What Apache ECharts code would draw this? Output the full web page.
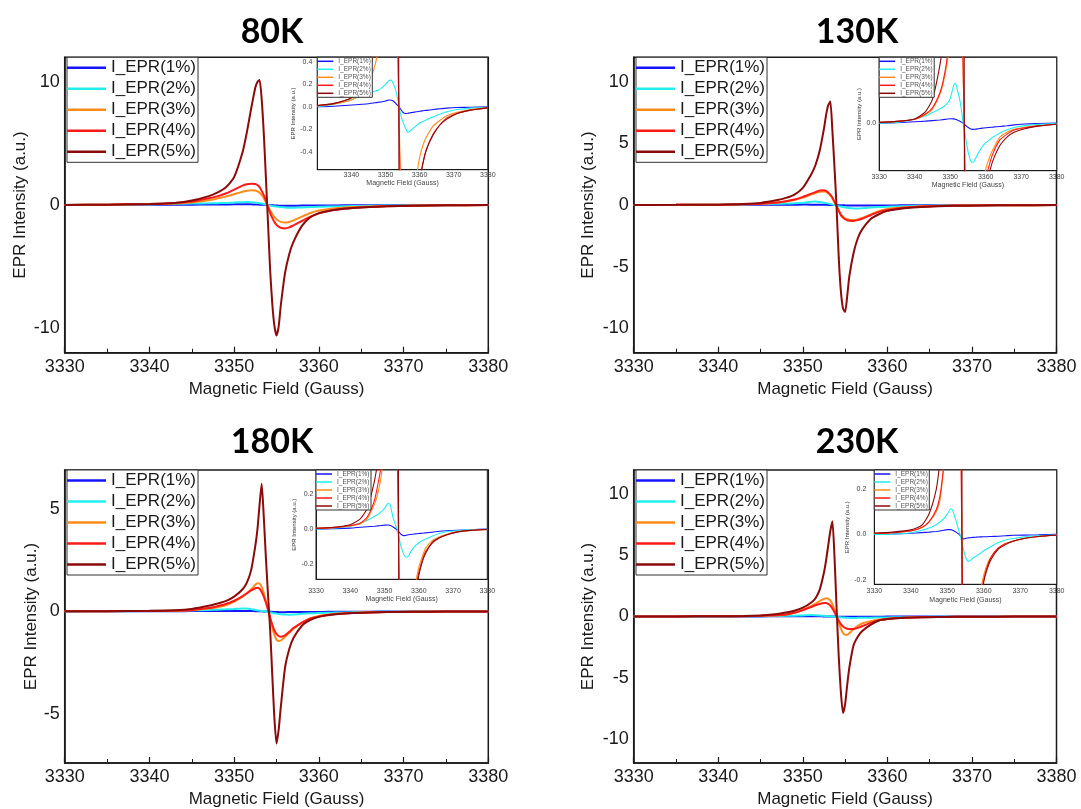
<!DOCTYPE html>
<html><head><meta charset="utf-8">
<script src="https://cdn.jsdelivr.net/npm/echarts@6/dist/echarts.min.js"></script>
<style>html,body{margin:0;padding:0;background:#fff}#c{width:1081px;height:809px}</style>
</head><body><div id="c"></div>
<script>
// ---------- DATA ----------
const field = [3330, 3335, 3340, 3343, 3345, 3347, 3348, 3349, 3350,
  3351, 3351.5, 3352, 3352.5, 3352.75, 3353, 3353.25, 3353.5, 3353.75,
  3354, 3354.25, 3354.5, 3354.75, 3355, 3355.25, 3355.5, 3356, 3356.5,
  3357, 3358, 3359, 3360, 3361, 3362, 3364, 3366, 3368, 3371, 3375, 3380];
const seriesNames = ['I_EPR(1%)', 'I_EPR(2%)', 'I_EPR(3%)', 'I_EPR(4%)', 'I_EPR(5%)'];
const panelTitles = ['80K', '130K', '180K', '230K'];
const xTitle = 'Magnetic Field (Gauss)';
const yTitle = 'EPR Intensity (a.u.)';

// 80K
const blue80 = [0, 0.005, 0.015, 0.022, 0.027, 0.035, 0.04, 0.045, 0.052,
  0.06, 0.06, 0.055, 0.045, 0.038, 0.03, 0.022, 0.015, 0.008,
  0, -0.012, -0.025, -0.035, -0.045, -0.052, -0.057, -0.06, -0.058,
  -0.055, -0.05, -0.045, -0.04, -0.036, -0.032, -0.025, -0.018, -0.012, -0.007, -0.004, 0];
const cyan80 = [0, 0.022, 0.062, 0.1, 0.122, 0.14, 0.15, 0.17, 0.2,
  0.232, 0.237, 0.225, 0.19, 0.17, 0.145, 0.115, 0.08, 0.04,
  0, -0.04, -0.075, -0.1, -0.125, -0.145, -0.165, -0.2, -0.226,
  -0.22, -0.195, -0.17, -0.145, -0.13, -0.115, -0.09, -0.065, -0.045, -0.025, -0.012, -0.005];
const orange80 = [0.01, 0.025, 0.06, 0.12, 0.2, 0.38, 0.52, 0.68, 0.88,
  1.08, 1.15, 1.19, 1.17, 1.1, 1.0, 0.82, 0.55, 0.22,
  -0.12, -0.45, -0.75, -0.98, -1.15, -1.28, -1.37, -1.43, -1.38,
  -1.25, -0.95, -0.65, -0.45, -0.34, -0.27, -0.17, -0.12, -0.08, -0.05, -0.025, -0.01];
const red80 = [0.01, 0.03, 0.08, 0.17, 0.28, 0.55, 0.7, 0.93, 1.25,
  1.58, 1.68, 1.73, 1.7, 1.62, 1.45, 1.15, 0.8, 0.35,
  -0.15, -0.65, -1.05, -1.38, -1.62, -1.76, -1.85, -1.9, -1.82,
  -1.65, -1.3, -0.95, -0.68, -0.5, -0.38, -0.24, -0.16, -0.1, -0.06, -0.03, -0.01];
const brown80 = [0.01, 0.03, 0.08, 0.17, 0.36, 0.72, 1.0, 1.42, 2.27,
  4.3, 5.9, 7.8, 9.55, 10.0, 10.16, 8.6, 5.8, 2.2,
  -1.5, -5.3, -8.0, -9.8, -10.6, -9.9, -8.2, -5.55, -4.0,
  -3.0, -1.7, -1.0, -0.66, -0.5, -0.38, -0.25, -0.16, -0.11, -0.06, -0.03, -0.01];

// 130K
const blue130 = [0, 0.003, 0.01, 0.014, 0.018, 0.022, 0.025, 0.028, 0.031,
  0.03, 0.027, 0.022, 0.016, 0.013, 0.01, 0.006, 0.002, -0.003,
  -0.008, -0.014, -0.02, -0.025, -0.03, -0.034, -0.038, -0.043, -0.045,
  -0.044, -0.04, -0.036, -0.033, -0.031, -0.029, -0.024, -0.019, -0.013, -0.006, -0.003, 0];
const cyan130 = [0, 0.005, 0.027, 0.05, 0.075, 0.1, 0.115, 0.135, 0.175,
  0.27, 0.285, 0.24, 0.19, 0.16, 0.12, 0.08, 0.03, -0.01,
  -0.05, -0.09, -0.13, -0.165, -0.2, -0.225, -0.25, -0.28, -0.28,
  -0.26, -0.21, -0.17, -0.14, -0.12, -0.1, -0.07, -0.048, -0.032, -0.018, -0.009, -0.003];
const orange130 = [0.005, 0.012, 0.028, 0.06, 0.1, 0.2, 0.28, 0.41, 0.6,
  0.86, 0.98, 1.08, 1.1, 1.06, 0.95, 0.78, 0.55, 0.22,
  -0.1, -0.45, -0.75, -0.95, -1.08, -1.16, -1.2, -1.22, -1.17,
  -1.06, -0.78, -0.5, -0.33, -0.25, -0.19, -0.1, -0.065, -0.045, -0.03, -0.018, -0.008];
const red130 = [0.005, 0.012, 0.028, 0.065, 0.11, 0.21, 0.3, 0.44, 0.66,
  0.92, 1.05, 1.17, 1.2, 1.15, 1.02, 0.84, 0.6, 0.25,
  -0.1, -0.48, -0.82, -1.02, -1.16, -1.24, -1.28, -1.29, -1.23,
  -1.12, -0.83, -0.56, -0.4, -0.3, -0.22, -0.12, -0.08, -0.05, -0.033, -0.02, -0.008];
const brown130 = [0.005, 0.012, 0.03, 0.08, 0.17, 0.4, 0.58, 0.85, 1.4,
  2.5, 3.25, 4.42, 6.2, 7.3, 8.1, 8.4, 6.0, 3.0,
  -0.3, -4.3, -7.0, -8.4, -8.7, -7.4, -5.8, -3.9, -2.7,
  -2.0, -1.15, -0.75, -0.48, -0.36, -0.27, -0.16, -0.1, -0.065, -0.04, -0.02, -0.008];

// 180K
const blue180 = [0, 0.002, 0.005, 0.01, 0.013, 0.016, 0.018, 0.02, 0.022,
  0.023, 0.021, 0.017, 0.012, 0.009, 0.005, 0.001, -0.003, -0.008,
  -0.013, -0.018, -0.024, -0.029, -0.033, -0.036, -0.038, -0.037, -0.035,
  -0.033, -0.03, -0.028, -0.026, -0.024, -0.022, -0.018, -0.013, -0.01, -0.007, -0.004, 0];
const cyan180 = [0, 0.005, 0.016, 0.035, 0.05, 0.072, 0.083, 0.098, 0.118,
  0.146, 0.145, 0.11, 0.066, 0.05, 0.035, 0.022, 0.008, -0.005,
  -0.025, -0.05, -0.075, -0.095, -0.11, -0.125, -0.14, -0.158, -0.162,
  -0.155, -0.12, -0.095, -0.08, -0.068, -0.058, -0.04, -0.026, -0.016, -0.01, -0.005, -0.002];
const orange180 = [0.004, 0.008, 0.018, 0.03, 0.06, 0.14, 0.2, 0.3, 0.48,
  0.72, 0.88, 1.07, 1.3, 1.37, 1.36, 1.2, 0.9, 0.5,
  0.1, -0.35, -0.8, -1.15, -1.38, -1.45, -1.42, -1.25, -1.05,
  -0.85, -0.55, -0.33, -0.22, -0.16, -0.11, -0.065, -0.044, -0.03, -0.016, -0.008, -0.003];
const red180 = [0.004, 0.008, 0.02, 0.035, 0.07, 0.16, 0.25, 0.36, 0.52,
  0.75, 0.88, 1.02, 1.13, 1.15, 1.1, 0.95, 0.72, 0.42,
  0.08, -0.3, -0.65, -0.92, -1.1, -1.2, -1.24, -1.17, -1.0,
  -0.82, -0.55, -0.35, -0.25, -0.18, -0.13, -0.08, -0.052, -0.035, -0.018, -0.009, -0.003];
const brown180 = [0.004, 0.01, 0.025, 0.06, 0.12, 0.27, 0.38, 0.5, 0.72,
  1.08, 1.4, 2.0, 3.2, 4.0, 5.2, 6.23, 4.6, 2.6,
  0.8, -0.9, -3.1, -5.2, -6.45, -5.8, -4.7, -2.77, -1.85,
  -1.3, -0.7, -0.42, -0.27, -0.19, -0.14, -0.075, -0.05, -0.035, -0.018, -0.008, -0.003];

// 230K
const blue230 = [0, 0.002, 0.005, 0.008, 0.01, 0.013, 0.015, 0.018, 0.021,
  0.021, 0.018, 0.014, 0.009, 0.006, 0.003, 0, -0.004, -0.009,
  -0.014, -0.018, -0.02, -0.019, -0.018, -0.017, -0.016, -0.015, -0.014,
  -0.013, -0.012, -0.011, -0.01, -0.01, -0.009, -0.008, -0.006, -0.004, -0.003, -0.002, 0];
const cyan230 = [0, 0.001, 0.007, 0.018, 0.028, 0.043, 0.055, 0.068, 0.09,
  0.113, 0.105, 0.08, 0.055, 0.04, 0.025, 0.012, 0, -0.018,
  -0.035, -0.052, -0.07, -0.085, -0.098, -0.108, -0.116, -0.118, -0.112,
  -0.105, -0.095, -0.084, -0.072, -0.062, -0.053, -0.036, -0.025, -0.018, -0.011, -0.006, -0.002];
const orange230 = [0.005, 0.008, 0.015, 0.03, 0.055, 0.1, 0.15, 0.3, 0.55,
  0.85, 1.05, 1.27, 1.45, 1.5, 1.47, 1.3, 1.0, 0.55,
  0.05, -0.5, -1.0, -1.35, -1.5, -1.5, -1.38, -1.02, -0.76,
  -0.57, -0.38, -0.26, -0.18, -0.13, -0.1, -0.06, -0.04, -0.03, -0.018, -0.009, -0.004];
const red230 = [0.005, 0.008, 0.015, 0.03, 0.055, 0.11, 0.17, 0.3, 0.52,
  0.78, 0.92, 1.03, 1.1, 1.1, 1.04, 0.9, 0.66, 0.35,
  -0.02, -0.35, -0.62, -0.82, -0.94, -1.0, -1.03, -1.02, -0.93,
  -0.8, -0.52, -0.31, -0.2, -0.14, -0.1, -0.06, -0.04, -0.03, -0.018, -0.009, -0.004];
const brown230 = [0.005, 0.01, 0.02, 0.04, 0.09, 0.2, 0.32, 0.47, 0.72,
  1.15, 1.5, 2.2, 3.6, 4.6, 5.8, 7.0, 7.8, 4.8,
  0.6, -3.3, -6.2, -7.9, -7.2, -5.6, -4.2, -2.35, -1.65,
  -1.2, -0.68, -0.33, -0.21, -0.15, -0.11, -0.065, -0.045, -0.03, -0.018, -0.009, -0.004];

// tick labels
const xTicks = [3330, 3340, 3350, 3360, 3370, 3380];
const mainYTicks80 = [-10, 0, 10];
const mainYTicks130 = [-10, -5, 0, 5, 10];
const mainYTicks180 = [-5, 0, 5];
const mainYTicks230 = [-10, -5, 0, 5, 10];
const insetYTicks80 = [-0.4, -0.2, 0, 0.2, 0.4];
const insetYTicks130 = [0];
const insetYTicks180 = [-0.2, 0, 0.2];
const insetYTicks230 = [-0.2, 0, 0.2];

// ---------- STYLE / LAYOUT ----------
const colors = ['#1414ff', '#22eeee', '#ff8c1a', '#ff1a1a', '#8b0a0a'];
const FONT = '"Liberation Sans", Arial, sans-serif';
const INK = '#1a1a1a';
const plain = (v) => String(v);

const panels = [
  { title: panelTitles[0], tx: 272, ty: 32, data: [blue80, cyan80, orange80, red80, brown80],
    main: { left: 64.7, top: 57.3, w: 423.6, h: 295.4, ymin: -12, ymax: 12, yTicks: mainYTicks80, yNameGap: 36 },
    inset: { left: 317.3, top: 57.3, w: 170.5, h: 112.4, ymin: -0.56, ymax: 0.44, yTicks: insetYTicks80,
             showMinX: false, xLabMargin: 1.5, xNameGap: 10, yNameGap: 17, yLabMargin: 5 } },
  { title: panelTitles[1], tx: 857, ty: 32, data: [blue130, cyan130, orange130, red130, brown130],
    main: { left: 633.7, top: 57.3, w: 422.8, h: 295.4, ymin: -12, ymax: 12, yTicks: mainYTicks130, yNameGap: 37 },
    inset: { left: 879.2, top: 57.3, w: 177.5, h: 113.4, ymin: -0.34, ymax: 0.47, yTicks: insetYTicks130,
             showMinX: true, xLabMargin: 2.5, xNameGap: 11, yNameGap: 13, yLabMargin: 3 } },
  { title: panelTitles[2], tx: 272, ty: 442, data: [blue180, cyan180, orange180, red180, brown180],
    main: { left: 64.7, top: 470, w: 423.6, h: 295, ymin: -7.4, ymax: 6.9, yTicks: mainYTicks180, yNameGap: 25 },
    inset: { left: 316, top: 470, w: 171.3, h: 109.3, ymin: -0.289, ymax: 0.339, yTicks: insetYTicks180,
             showMinX: true, xLabMargin: 8, xNameGap: 16, yNameGap: 17, yLabMargin: 2.5 } },
  { title: panelTitles[3], tx: 857, ty: 442, data: [blue230, cyan230, orange230, red230, brown230],
    main: { left: 633.7, top: 470, w: 422.8, h: 295, ymin: -12, ymax: 12, yTicks: mainYTicks230, yNameGap: 37 },
    inset: { left: 874.3, top: 470, w: 182.4, h: 114.3, ymin: -0.22, ymax: 0.284, yTicks: insetYTicks230,
             showMinX: true, xLabMargin: 3, xNameGap: 12, yNameGap: 20, yLabMargin: 8 } }
];

const grid = [], xAxis = [], yAxis = [], series = [], legend = [], graphic = [];

panels.forEach((p) => {
  const gMain = grid.length;
  grid.push({ left: p.main.left, top: p.main.top, width: p.main.w, height: p.main.h,
    show: true, borderColor: INK, borderWidth: 1.5, backgroundColor: 'transparent', containLabel: false });
  xAxis.push({ gridIndex: gMain, type: 'value', min: 3330, max: 3380, interval: 10,
    axisLine: { show: true, onZero: false, lineStyle: { color: INK, width: 1.5 } },
    axisTick: { show: true, inside: true, length: 6, lineStyle: { color: INK, width: 1.2 } },
    minorTick: { show: true, splitNumber: 2, length: 4, lineStyle: { color: INK, width: 1 } },
    splitLine: { show: false }, minorSplitLine: { show: false },
    axisLabel: { fontSize: 18, color: INK, margin: 5, fontFamily: FONT, customValues: xTicks, formatter: plain },
    name: xTitle, nameLocation: 'middle', nameGap: 28,
    nameTextStyle: { fontSize: 17, color: INK, fontFamily: FONT } });
  yAxis.push({ gridIndex: gMain, type: 'value', min: p.main.ymin, max: p.main.ymax,
    axisLine: { show: true, onZero: false, lineStyle: { color: INK, width: 1.5 } },
    axisTick: { show: false }, splitLine: { show: false },
    axisLabel: { fontSize: 18, color: INK, margin: 5, fontFamily: FONT, customValues: p.main.yTicks, formatter: plain },
    name: yTitle, nameLocation: 'middle', nameGap: p.main.yNameGap,
    nameTextStyle: { fontSize: 17, color: INK, fontFamily: FONT } });
  p.data.forEach((vals, k) => {
    series.push({ type: 'line', name: seriesNames[k], xAxisIndex: gMain, yAxisIndex: gMain,
      data: field.map((x, i) => [x, vals[i]]), showSymbol: false, symbol: 'none', smooth: 0.2,
      clip: true, lineStyle: { width: 2, color: colors[k] }, itemStyle: { color: colors[k] }, z: 2 + k * 0.01 });
  });
  legend.push({ orient: 'vertical', left: p.main.left + 2.3, top: p.main.top, data: seriesNames,
    icon: 'rect', itemWidth: 39, itemHeight: 2.5, itemGap: 0, padding: [0, 2, 0, 0],
    borderColor: '#333', borderWidth: 1, backgroundColor: '#fff',
    textStyle: { fontSize: 17, color: INK, fontFamily: FONT, lineHeight: 21 }, selectedMode: false, z: 5 });

  const gIn = grid.length;
  const q = p.inset;
  grid.push({ left: q.left, top: q.top, width: q.w, height: q.h, show: true,
    borderColor: INK, borderWidth: 1, backgroundColor: '#fff', z: 3 });
  xAxis.push({ gridIndex: gIn, type: 'value', min: 3330, max: 3380, interval: 10, z: 3,
    axisLine: { show: true, onZero: false, lineStyle: { color: INK, width: 1 } },
    axisTick: { show: false }, splitLine: { show: false },
    axisLabel: { fontSize: 7, color: '#444', margin: q.xLabMargin, fontFamily: FONT, showMinLabel: q.showMinX, formatter: plain },
    name: xTitle, nameLocation: 'middle', nameGap: q.xNameGap,
    nameTextStyle: { fontSize: 7, color: '#444', fontFamily: FONT } });
  yAxis.push({ gridIndex: gIn, type: 'value', min: q.ymin, max: q.ymax, z: 3,
    axisLine: { show: true, onZero: false, lineStyle: { color: INK, width: 1 } },
    axisTick: { show: false }, splitLine: { show: false },
    axisLabel: { fontSize: 7, color: '#444', margin: q.yLabMargin, fontFamily: FONT,
      customValues: q.yTicks, formatter: (v) => Number(v).toFixed(1) },
    name: yTitle, nameLocation: 'middle', nameGap: q.yNameGap,
    nameTextStyle: { fontSize: 6, color: '#333', fontFamily: FONT } });
  p.data.forEach((vals, k) => {
    series.push({ type: 'line', name: seriesNames[k], xAxisIndex: gIn, yAxisIndex: gIn,
      data: field.map((x, i) => [x, vals[i]]), showSymbol: false, symbol: 'none', smooth: 0.2,
      clip: true, lineStyle: { width: 1.1, color: colors[k] }, itemStyle: { color: colors[k] }, z: 4 });
  });
  legend.push({ orient: 'vertical', left: q.left, top: q.top, data: seriesNames,
    icon: 'rect', itemWidth: 16, itemHeight: 1.5, itemGap: 0, padding: [0, 1.5, 0, 0],
    borderColor: '#333', borderWidth: 1, backgroundColor: '#fff',
    textStyle: { fontSize: 6.5, color: '#555', fontFamily: FONT, lineHeight: 8 }, selectedMode: false, z: 6 });

  graphic.push({ type: 'text', x: p.tx, y: p.ty, z: 10,
    style: { text: p.title, font: 'bold 34px Lato, "Open Sans", sans-serif', fill: '#000',
      textAlign: 'center', textVerticalAlign: 'middle' } });
});

const chart = echarts.init(document.getElementById('c'), null, { renderer: 'canvas' });
chart.setOption({ animation: false, backgroundColor: '#fff', grid, xAxis, yAxis, series, legend, graphic });
</script>
</body></html>
